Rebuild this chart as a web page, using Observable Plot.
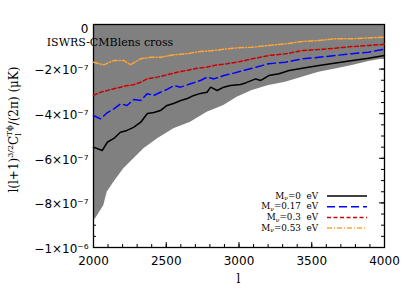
<!DOCTYPE html>
<html><head><meta charset="utf-8">
<script src="https://cdn.jsdelivr.net/npm/d3@7"></script>
<script src="https://cdn.jsdelivr.net/npm/@observablehq/plot@0.6"></script>
<style>html,body{margin:0;padding:0;background:#fff;} svg{display:block}</style>
</head><body><div id="chart"></div>
<script>
// ---- data ----
const lM0 = [2000,2060,2095,2140,2185,2230,2275,2325,2370,2415,2460,2505,2550,2600,2645,2690,2735,2780,2805,2850,2895,2940,3010,3045,3115,3150,3205,3275,3345,3435,3550,3665,3780,3890,4000];
const vM0 = [-5.50,-5.65,-5.28,-5.11,-4.83,-4.75,-4.61,-4.38,-3.99,-3.95,-3.86,-3.63,-3.54,-3.41,-3.32,-3.18,-3.09,-3.04,-2.81,-2.96,-2.81,-2.74,-2.69,-2.62,-2.44,-2.51,-2.29,-2.21,-2.06,-1.96,-1.84,-1.73,-1.61,-1.51,-1.39];

const lBand = [2000,2014,2071,2094,2140,2208,2277,2346,2438,2552,2667,2781,2896,2987,3091,3205,3320,3434,3549,3663,3778,3892,4000];
const vBandLow = [-8.79,-8.71,-8.12,-7.52,-7.07,-6.47,-6.02,-5.57,-5.13,-4.68,-4.38,-3.93,-3.63,-3.26,-2.96,-2.74,-2.59,-2.36,-2.14,-1.99,-1.84,-1.66,-1.54];

const lM017 = [2000,2048,2094,2140,2186,2231,2277,2323,2369,2414,2460,2506,2552,2598,2667,2735,2781,2827,2896,2964,3091,3205,3320,3434,3549,3663,3778,3892,4000];
const vM017 = [-4.08,-4.23,-3.96,-3.78,-3.56,-3.63,-3.36,-3.41,-3.11,-3.18,-3.04,-2.91,-2.74,-2.81,-2.66,-2.51,-2.36,-2.44,-2.29,-2.18,-1.96,-1.76,-1.69,-1.54,-1.47,-1.39,-1.31,-1.24,-1.10];

const lM03 = [2000,2048,2094,2140,2186,2231,2277,2323,2369,2438,2506,2575,2644,2713,2781,2850,2918,2987,3091,3205,3320,3434,3549,3663,3778,3892,4000];
const vM03 = [-3.18,-3.04,-2.96,-2.88,-2.81,-2.74,-2.70,-2.59,-2.44,-2.36,-2.26,-2.14,-2.06,-1.96,-1.91,-1.81,-1.76,-1.69,-1.54,-1.39,-1.31,-1.17,-1.12,-1.06,-0.99,-0.94,-0.89];

const lM053 = [2000,2071,2140,2208,2254,2323,2392,2460,2552,2644,2735,2827,2918,3000,3091,3205,3320,3434,3549,3663,3778,3892,4000];
const vM053 = [-1.69,-1.81,-1.61,-1.61,-1.81,-1.54,-1.47,-1.47,-1.36,-1.31,-1.21,-1.17,-1.09,-1.04,-1.02,-0.94,-0.87,-0.76,-0.72,-0.64,-0.64,-0.60,-0.57];

const valueUnit = 1e-7;
const legendMasses = ["0", "0.17", "0.3", "0.53"];
const seriesColors = ["#000000", "#0000ff", "#cc0000", "#ffa533"];
const seriesDash = [null, "8,4", "4,2.5", "5,2,1,2"];

const xMajorTicks = [2000, 2500, 3000, 3500, 4000];
const xTickLabels = ["2000", "2500", "3000", "3500", "4000"];
const yMajorTicks = [0, -2e-7, -4e-7, -6e-7, -8e-7, -1e-6];
const yTickLabels = ["0", "−2×10⁻⁷", "−4×10⁻⁷", "−6×10⁻⁷", "−8×10⁻⁷", "−1×10⁻⁶"];
const xMinorTicks = d3.range(2000, 4001, 100);
const yMinorTicks = d3.range(0, 21).map(i => -i * 0.5e-7);

// ---- build tables ----
const mk = (ls, vs) => ls.map((l, i) => ({l, v: vs[i] * valueUnit}));
const series = [mk(lM0, vM0), mk(lM017, vM017), mk(lM03, vM03), mk(lM053, vM053)];
const band = mk(lBand, vBandLow);

const W = 415, H = 297, mL = 93, mR = 31, mT = 24, mB = 50;
const fw = W - mL - mR, fh = H - mT - mB;
const majLen = 5, minLen = 3;

const tickMarks = [
  Plot.tickX(xMinorTicks, {x: d => d, insetTop: fh - minLen, stroke: "black"}),
  Plot.tickX(xMajorTicks, {x: d => d, insetTop: fh - majLen, stroke: "black"}),
  Plot.tickX(xMinorTicks, {x: d => d, insetBottom: fh - minLen, stroke: "black"}),
  Plot.tickX(xMajorTicks, {x: d => d, insetBottom: fh - majLen, stroke: "black"}),
  Plot.tickY(yMinorTicks, {y: d => d, insetRight: fw - minLen, stroke: "black"}),
  Plot.tickY(yMajorTicks, {y: d => d, insetRight: fw - majLen, stroke: "black"}),
  Plot.tickY(yMinorTicks, {y: d => d, insetLeft: fw - minLen, stroke: "black"}),
  Plot.tickY(yMajorTicks, {y: d => d, insetLeft: fw - majLen, stroke: "black"})
];

const chart = Plot.plot({
  width: W, height: H,
  marginLeft: mL, marginRight: mR, marginTop: mT, marginBottom: mB,
  x: {domain: [2000, 4000]},
  y: {domain: [-1e-6, 0]},
  style: {background: "white", color: "black", fontFamily: "DejaVu Sans", fontSize: "12px"},
  marks: [
    ...tickMarks,
    Plot.areaY(band, {x: "l", y1: "v", y2: () => 0, fill: "#808080"}),
    Plot.frame({stroke: "black", strokeWidth: 1.3}),
    ...series.map((s, i) => Plot.line(s, {
      x: "l", y: "v", stroke: seriesColors[i], strokeWidth: 1.5,
      strokeDasharray: seriesDash[i] || undefined
    })),
    Plot.axisX({ticks: xMajorTicks, tickSize: 0, tickPadding: 9, label: null,
      tickFormat: d => xTickLabels[xMajorTicks.indexOf(d)], fontSize: 12}),
    Plot.axisY({ticks: yMajorTicks.slice(1), tickSize: 0, tickPadding: 5, label: null, dy: 1.5,
      tickFormat: d => yTickLabels[yMajorTicks.indexOf(d)], fontSize: 12}),
    Plot.axisY({ticks: yMajorTicks.slice(0, 1), tickSize: 0, tickPadding: 5, label: null, dy: 5,
      tickFormat: d => yTickLabels[yMajorTicks.indexOf(d)], fontSize: 12})
  ]
});

document.getElementById("chart").appendChild(chart);

// ---- annotations ----
const svg = d3.select(chart);
const serif = "DejaVu Serif";

svg.append("text")
  .attr("x", mL + 17).attr("y", mT + 22)
  .attr("font-family", serif).attr("font-size", 11).attr("fill", "black")
  .text("ISWRS-CMBlens cross");

svg.append("text")
  .attr("x", mL + fw / 2).attr("y", H - 14)
  .attr("text-anchor", "middle")
  .attr("font-family", serif).attr("font-size", 12).attr("fill", "black")
  .text("l");

const yl = svg.append("text")
  .attr("transform", `translate(18,${mT + fh / 2 - 6}) rotate(-90)`)
  .attr("text-anchor", "middle")
  .attr("font-family", serif).attr("font-size", 12).attr("fill", "black");
yl.append("tspan").text("l(l+1)");
yl.append("tspan").attr("font-size", 8).attr("dy", -5).text("3/2");
yl.append("tspan").attr("dy", 5).text("C");
yl.append("tspan").attr("font-size", 8).attr("dy", 3).text("l");
yl.append("tspan").attr("font-size", 8).attr("dx", -3).attr("dy", -9).text("Tϕ");
yl.append("tspan").attr("dy", 6).text("/(2π) (μK)");

// legend
const lg = svg.append("g");
legendMasses.forEach((m, i) => {
  const y = 196 + i * 10.7;
  const t = lg.append("text")
    .attr("x", 318).attr("y", y).attr("dy", "0.3em")
    .attr("text-anchor", "end")
    .attr("font-family", serif).attr("font-size", 8.8).attr("fill", "black")
    .attr("xml:space", "preserve");
  t.append("tspan").text("M");
  t.append("tspan").attr("font-size", 6).attr("dy", 1.5).text("ν");
  t.append("tspan").attr("dy", -1.5).text(`=${m}  eV`);
  lg.append("line")
    .attr("x1", 327).attr("x2", 367).attr("y1", y).attr("y2", y)
    .attr("stroke", seriesColors[i]).attr("stroke-width", 1.5)
    .attr("stroke-dasharray", seriesDash[i]);
});
</script>
</body></html>
